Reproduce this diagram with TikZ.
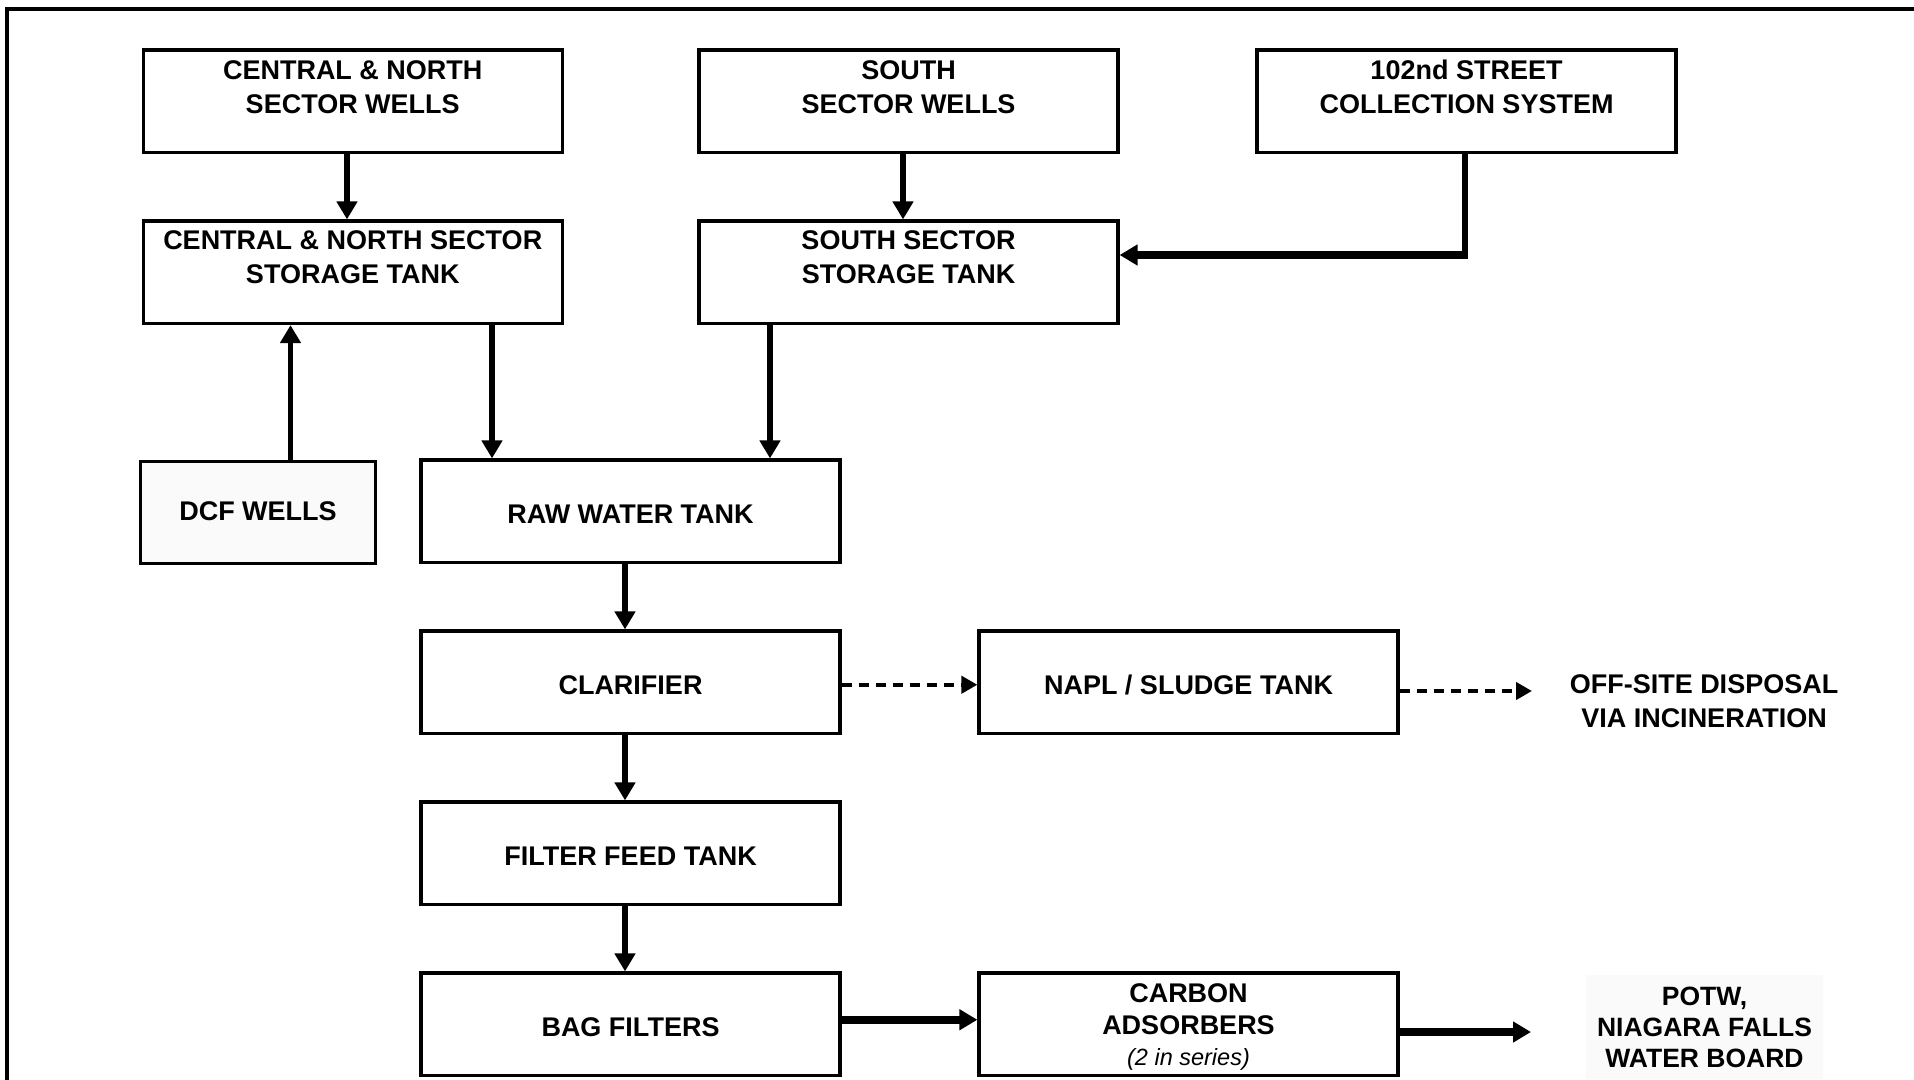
\documentclass[tikz,border=0pt]{standalone}
\usepackage{fontspec}
\setmainfont{Liberation Sans}
\usetikzlibrary{arrows.meta}
\begin{document}
\begin{tikzpicture}[x=1pt,y=-1pt,
  box/.style={draw=black, line width=3.2pt, minimum width=419pt, minimum height=102.5pt, inner sep=0pt},
  lbl/.style={align=center, inner sep=0pt, font=\fontsize{27}{34.3}\selectfont\bfseries},
  flow/.style={line width=5.5pt, -{Triangle[length=18pt,width=20pt]}},
  flowthick/.style={line width=8pt, -{Triangle[length=18pt,width=20pt]}},
  dflow/.style={line width=4pt, dash pattern=on 10pt off 7pt, -{Triangle[length=16pt,width=17pt]}}
]
\useasboundingbox (0,0) rectangle (1914,1079);
\begin{scope}
  \clip (0,0) rectangle (1914,1079);
  \draw[line width=3.2pt] (7,9) rectangle (1940,1100);
\end{scope}

% boxes
\node[box] (cnw) at (352.75,101.25) {};
\node[box] (ssw) at (908.5,101.25) {};
\node[box] (c102) at (1466.5,101.25) {};
\node[box] (cns) at (352.75,272.25) {};
\node[box] (sst) at (908.5,272.25) {};
\node[box, fill=black!2, minimum width=235pt] (dcf) at (258,512.5) {};
\node[box] (raw) at (630.5,511.25) {};
\node[box] (clar) at (630.5,682.25) {};
\node[box] (napl) at (1188.5,682.25) {};
\node[box] (filt) at (630.5,853.25) {};
\node[box] (bag) at (630.5,1024.25) {};
\node[box] (carb) at (1188.5,1024.25) {};
\node[lbl, fill=black!2, minimum width=237pt, minimum height=104pt, font=\fontsize{26.5}{31}\selectfont\bfseries] (potw) at (1704.5,1027) {POTW,\\NIAGARA FALLS\\WATER BOARD};

% labels
\node[lbl] (cnwt) at (352.75,87) {CENTRAL \& NORTH\\SECTOR WELLS};
\node[lbl] (sswt) at (908.5,87) {SOUTH\\SECTOR WELLS};
\node[lbl] (c102t) at (1466.5,87) {102nd STREET\\COLLECTION SYSTEM};
\node[lbl] (cnst) at (352.75,257.5) {CENTRAL \& NORTH SECTOR\\STORAGE TANK};
\node[lbl] (sstt) at (908.5,257.5) {SOUTH SECTOR\\STORAGE TANK};
\node[lbl] (dcft) at (258,511.5) {DCF WELLS};
\node[lbl] (rawt) at (630.5,514) {RAW WATER TANK};
\node[lbl] (clart) at (630.5,685) {CLARIFIER};
\node[lbl] (naplt) at (1188.5,685) {NAPL / SLUDGE TANK};
\node[lbl] (filtt) at (630.5,856) {FILTER FEED TANK};
\node[lbl] (bagt) at (630.5,1027) {BAG FILTERS};
\node[lbl, anchor=base] (carbt1) at (1188.5,1002) {CARBON};
\node[lbl, anchor=base] (carbt2) at (1188.5,1034) {ADSORBERS};
\node[inner sep=0pt, anchor=base, font=\fontsize{23.5}{26}\selectfont\itshape] (carbt3) at (1188.5,1065) {(2 in series)};
\node[lbl] (offt) at (1704,701) {OFF-SITE DISPOSAL\\VIA INCINERATION};

% helper coordinates
\coordinate (bend) at (1465,255);
\coordinate (offin) at (1532,691);
\coordinate (potwin) at (1531,1032);
\path ([xshift=-5.75pt]cnw.south) coordinate (a1);
\path ([xshift=-5.5pt]ssw.south) coordinate (a2);
\path ([xshift=32.5pt]dcf.north) coordinate (a3);
\path ([xshift=139.25pt]cns.south) coordinate (a4);
\path ([xshift=-138.5pt]sst.south) coordinate (a5);
\path ([xshift=-5.5pt]raw.south) coordinate (a6);
\path ([xshift=-5.5pt]clar.south) coordinate (a7);
\path ([xshift=-5.5pt]filt.south) coordinate (a8);

% connectors
\draw[flow] (a1) -- (a1 |- cns.north);
\draw[flow] (a2) -- (a2 |- sst.north);
\draw[line width=5.5pt] (bend |- c102.south) -- ([yshift=-4pt]bend);
\draw[flowthick] ([xshift=2.75pt]bend) -- (sst.east |- bend);
\draw[flow] (a3) -- (a3 |- cns.south);
\draw[flow] (a4) -- (a4 |- raw.north);
\draw[flow] (a5) -- (a5 |- raw.north);
\draw[flow] (a6) -- (a6 |- clar.north);
\draw[flow] (a7) -- (a7 |- filt.north);
\draw[flow] (a8) -- (a8 |- bag.north);
\draw[dflow] ([yshift=-2.5pt]clar.east) -- ([yshift=-2.5pt]napl.west);
\draw[dflow] (napl.east |- offin) -- (offin);
\draw[flowthick] ([yshift=4.5pt]bag.east) -- ([yshift=4.5pt]carb.west);
\draw[flowthick] (carb.east |- potwin) -- (potwin);
\end{tikzpicture}
\end{document}
